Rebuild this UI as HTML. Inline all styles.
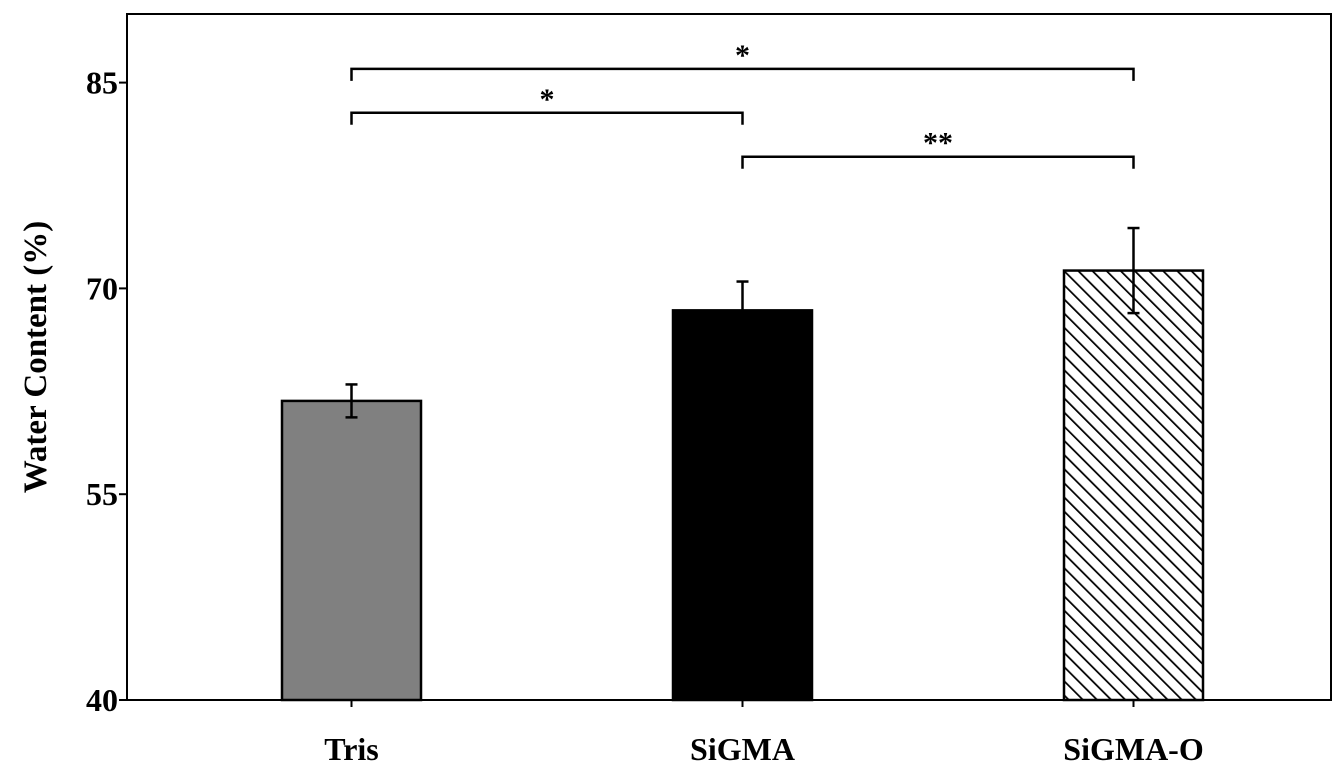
<!DOCTYPE html>
<html><head><meta charset="utf-8"><style>
html,body{margin:0;padding:0;background:#fff;}
svg{display:block;font-family:"Liberation Serif",serif;font-weight:bold;}
</style></head><body>
<svg id="chart" width="1339" height="772">
<defs><pattern id="hatch" patternUnits="userSpaceOnUse" width="10" height="10" patternTransform="rotate(-45)">
<rect width="10" height="10" fill="#fff"/><line x1="0" y1="0" x2="0" y2="10" stroke="#000" stroke-width="3.5"/></pattern></defs>
</svg>
<script>
const categories = ["Tris","SiGMA","SiGMA-O"];
const values = [61.8, 68.4, 71.3];
const errors = [1.2, 2.1, 3.1];
const yTicks = [40,55,70,85];
const sigPairs = [[0,2,"*"],[0,1,"*"],[1,2,"**"]];
const sigLevels = [86, 82.8, 79.6];

const svg = document.getElementById('chart');
const NS = "http://www.w3.org/2000/svg";
const L=127,R=1331,T=14,B=700,yMin=40,yMax=90;
const y = v => B-(v-yMin)/(yMax-yMin)*(B-T);
const bw = 139;
const xc = i => 351.5+i*391;
function add(tag, attrs, name, text){
  const e=document.createElementNS(NS,tag);
  for(const k in attrs) e.setAttribute(k,attrs[k]);
  
  
  if(text!==undefined) e.textContent=text;
  svg.appendChild(e); return e;
}
add('rect',{x:L,y:T,width:R-L,height:B-T,fill:'none',stroke:'#000','stroke-width':2},'plot-frame');
yTicks.forEach(t=>{
  add('line',{x1:L-8,x2:L,y1:y(t),y2:y(t),stroke:'#000','stroke-width':2},'y-tick');
  add('text',{x:L-9,y:y(t)+11,'text-anchor':'end','font-size':32},'y-tick-label',t);
});
const fills=['#808080','#000','url(#hatch)'];
categories.forEach((c,i)=>{
  add('rect',{x:xc(i)-bw/2,y:y(values[i]),width:bw,height:B-y(values[i]),fill:fills[i],stroke:'#000','stroke-width':2.5},'bar-'+c.toLowerCase());
  const e1=y(values[i]+errors[i]), e2=y(values[i]-errors[i]);
  add('line',{x1:xc(i),x2:xc(i),y1:e1,y2:e2,stroke:'#000','stroke-width':2.5},'error-bar');
  add('line',{x1:xc(i)-6,x2:xc(i)+6,y1:e1,y2:e1,stroke:'#000','stroke-width':2.5},'error-cap');
  add('line',{x1:xc(i)-6,x2:xc(i)+6,y1:e2,y2:e2,stroke:'#000','stroke-width':2.5},'error-cap');
  add('line',{x1:xc(i),x2:xc(i),y1:B,y2:B+7,stroke:'#000','stroke-width':2},'x-tick');
  add('text',{x:xc(i),y:760,'text-anchor':'middle','font-size':32},'x-label-'+c.toLowerCase(),c);
});
sigPairs.forEach((p,k)=>{
  const yy=y(sigLevels[k]), x1=xc(p[0]), x2=xc(p[1]);
  add('path',{d:`M${x1},${yy+12}V${yy}H${x2}V${yy+12}`,fill:'none',stroke:'#000','stroke-width':2.5},'significance-bracket');
  add('text',{x:(x1+x2)/2,y:yy-4,'text-anchor':'middle','font-size':30},'significance-mark',p[2]);
});
add('text',{x:0,y:0,transform:'translate(46,357) rotate(-90)','text-anchor':'middle','font-size':33},'y-axis-title','Water Content (%)');
</script>
</body></html>
